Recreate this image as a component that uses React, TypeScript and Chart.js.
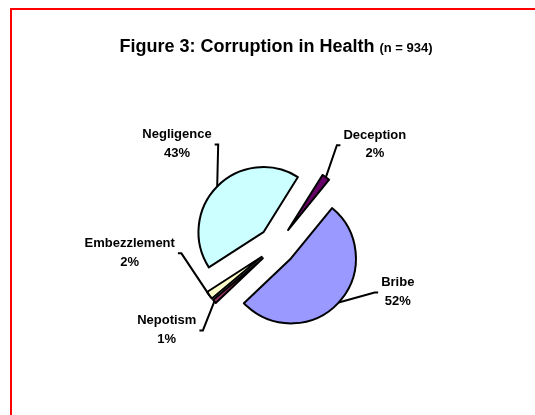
import { useEffect, useRef } from 'react';
import { Chart, registerables } from 'chart.js';

Chart.register(...registerables);

// ---- data ----
const categories = ['Deception', 'Bribe', 'Nepotism', 'Embezzlement', 'Negligence'];
const percentages = [2, 52, 1, 2, 43];
const percentLabels = ['2%', '52%', '1%', '2%', '43%'];
const titleMain = 'Figure 3: Corruption in Health';
const titleSub = '(n = 934)';

// ---- styles ----
const sliceColors = ['#660066', '#9999FF', '#993366', '#FFFFCC', '#CCFFFF'];
const FONT = '"Liberation Sans", Arial, Helvetica, sans-serif';
const EXPLODE = 19;
// leader-line layout: elbow offset from the slice's outer mid point, and label side
const leaderLayout = [
  { dx: 11, dy: -32, side: 1 },
  { dx: 36, dy: -10, side: 1 },
  { dx: -11.5, dy: 29, side: -1 },
  { dx: -28, dy: -42, side: -1 },
  { dx: 1, dy: -42, side: -1 },
];

const explodePlugin = {
  id: 'explodeSlices',
  beforeDatasetDraw(chart: any, args: any) {
    const ctx = chart.ctx;
    args.meta.data.forEach((arc: any) => {
      const p = arc.getProps(['startAngle', 'endAngle'], true);
      const mid = (p.startAngle + p.endAngle) / 2;
      ctx.save();
      ctx.translate(Math.cos(mid) * EXPLODE, Math.sin(mid) * EXPLODE);
      arc.draw(ctx, chart.chartArea);
      ctx.restore();
    });
    return false;
  },
};

const labelPlugin = {
  id: 'leaderLabels',
  afterDatasetsDraw(chart: any) {
    const ctx = chart.ctx;
    const meta = chart.getDatasetMeta(0);
    ctx.save();
    ctx.font = `bold 13px ${FONT}`;
    ctx.fillStyle = '#000';
    ctx.strokeStyle = '#000';
    ctx.lineWidth = 2;
    ctx.lineJoin = 'miter';
    meta.data.forEach((arc: any, i: number) => {
      const p = arc.getProps(['x', 'y', 'startAngle', 'endAngle', 'outerRadius'], true);
      const mid = (p.startAngle + p.endAngle) / 2;
      const r = p.outerRadius + EXPLODE;
      const ax = p.x + Math.cos(mid) * r;
      const ay = p.y + Math.sin(mid) * r;
      const lay = leaderLayout[i];
      const ex = ax + lay.dx;
      const ey = ay + lay.dy;
      const tx = ex + lay.side * 3.5;
      ctx.beginPath();
      ctx.moveTo(ax, ay);
      ctx.lineTo(ex, ey);
      ctx.lineTo(tx, ey);
      ctx.stroke();
      const name = categories[i];
      const pct = percentLabels[i];
      const w = Math.max(ctx.measureText(name).width, ctx.measureText(pct).width);
      const cx = lay.side > 0 ? tx + 3 + w / 2 : tx - 3 - w / 2;
      ctx.textAlign = 'center';
      ctx.textBaseline = 'alphabetic';
      ctx.fillText(name, cx, ey - 6.2);
      ctx.fillText(pct, cx, ey + 12.2);
    });
    ctx.restore();
  },
};

const titlePlugin = {
  id: 'richTitle',
  afterDraw(chart: any) {
    const ctx = chart.ctx;
    ctx.save();
    ctx.fillStyle = '#000';
    ctx.textBaseline = 'alphabetic';
    ctx.textAlign = 'left';
    ctx.font = `bold 18px ${FONT}`;
    const w1 = ctx.measureText(titleMain + ' ').width;
    ctx.font = `bold 13px ${FONT}`;
    const w2 = ctx.measureText(titleSub).width;
    const x0 = 276 - (w1 + w2) / 2;
    ctx.font = `bold 18px ${FONT}`;
    ctx.fillText(titleMain + ' ', x0, 51.5);
    ctx.font = `bold 13px ${FONT}`;
    ctx.fillText(titleSub, x0 + w1, 51.5);
    ctx.restore();
  },
};

export default function App() {
  const ref = useRef<HTMLCanvasElement>(null);
  useEffect(() => {
    const chart = new Chart(ref.current as HTMLCanvasElement, {
      type: 'pie',
      data: {
        labels: categories,
        datasets: [
          {
            data: percentages,
            backgroundColor: sliceColors,
            borderColor: '#000000',
            borderWidth: 2,
            borderJoinStyle: 'round',
          } as any,
        ],
      },
      options: {
        responsive: false,
        animation: false,
        devicePixelRatio: 1,
        rotation: 32,
        radius: 65,
        events: [],
        layout: { padding: { left: 19, top: 76, right: 0, bottom: 0 } },
        plugins: {
          legend: { display: false },
          tooltip: { enabled: false },
          title: { display: false },
        },
      } as any,
      plugins: [explodePlugin, labelPlugin, titlePlugin],
    });
    return () => chart.destroy();
  }, []);

  return (
    <div style={{ position: 'fixed', inset: 0, overflow: 'hidden', background: '#ffffff' }}>
      <div
        style={{
          position: 'absolute',
          left: 10,
          top: 8,
          width: 600,
          height: 500,
          border: '2px solid #FF0000',
          boxSizing: 'border-box',
        }}
      />
      <canvas
        ref={ref}
        width={535}
        height={415}
        style={{ position: 'absolute', left: 0, top: 0 }}
      />
    </div>
  );
}
